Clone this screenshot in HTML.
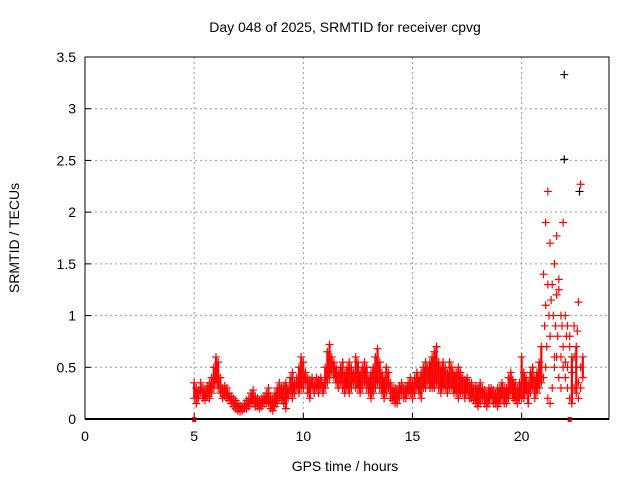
<!DOCTYPE html>
<html><head><meta charset="utf-8"><style>
body{margin:0;background:#fff}
svg text{font-family:"Liberation Sans",sans-serif;font-size:14px;fill:#000}
</style></head><body>
<svg id="c" width="640" height="480">
<text x="345" y="32" text-anchor="middle">Day 048 of 2025, SRMTID for receiver cpvg</text>
<text x="345" y="471" text-anchor="middle">GPS time / hours</text>
<text transform="translate(19,238) rotate(-90)" text-anchor="middle">SRMTID / TECUs</text>
<g id="grid"></g><g id="axes"></g><g id="marks"></g>
<rect x="85" y="57" width="524" height="362" fill="none" stroke="#000" stroke-width="1"/>
</svg>
<script>
const xTicks=[0,5,10,15,20];
const yTicks=[0,0.5,1,1.5,2,2.5,3,3.5];
const yTickLabels=["0","0.5","1","1.5","2","2.5","3","3.5"];
const startHour=5.0, stepHour=0.1;
const lowValues=[.2,.15,.2,.25,.2,.18,.22,.2,.25,.3,
.35,.3,.25,.2,.22,.2,.18,.15,.12,.1,
.08,.07,.08,.1,.1,.12,.15,.15,.12,.12,
.1,.12,.15,.15,.15,.1,.08,.12,.15,.2,
.18,.15,.1,.2,.25,.2,.25,.3,.25,.3,
.3,.35,.25,.2,.3,.25,.3,.25,.3,.25,
.3,.35,.4,.45,.4,.35,.3,.35,.3,.25,
.3,.25,.3,.35,.3,.3,.25,.3,.35,.3,
.25,.2,.25,.3,.35,.3,.25,.2,.25,.3,
.2,.18,.15,.15,.2,.25,.2,.2,.25,.25,
.2,.25,.3,.25,.2,.3,.3,.35,.3,.3,
.3,.35,.3,.25,.3,.3,.25,.3,.3,.25,
.25,.2,.25,.25,.2,.25,.2,.2,.18,.15,
.12,.15,.2,.15,.12,.15,.2,.15,.15,.12,
.15,.2,.15,.15,.2,.25,.2,.18,.15,.2,
.2,.2,.25,.15,.25,.3,.2,.25,.3,.35,
.4,.5,.2,.15,.3,.5,.6,.4,.3,.5,
.4,.3,.2,.15,.3,.25,.2,.3,.4];
const highValues=[.35,.3,.28,.35,.3,.28,.32,.35,.4,.5,
.6,.55,.4,.3,.32,.3,.25,.22,.2,.18,
.15,.13,.12,.15,.18,.2,.25,.28,.22,.2,
.18,.2,.22,.25,.3,.22,.2,.25,.3,.35,
.3,.32,.35,.3,.4,.45,.35,.4,.5,.6,
.55,.45,.4,.38,.4,.35,.4,.38,.4,.35,
.5,.65,.72,.6,.55,.5,.45,.5,.55,.45,
.5,.55,.5,.45,.6,.55,.45,.5,.55,.5,
.4,.45,.5,.6,.68,.55,.45,.4,.5,.45,
.35,.3,.3,.28,.32,.35,.3,.32,.35,.4,
.35,.4,.45,.4,.45,.5,.55,.5,.55,.6,
.65,.7,.55,.5,.55,.5,.45,.55,.5,.45,
.45,.5,.45,.4,.38,.4,.35,.35,.3,.32,
.3,.35,.3,.28,.25,.3,.3,.28,.25,.3,
.3,.35,.3,.3,.4,.45,.38,.35,.3,.35,
.6,.45,.4,.35,.45,.5,.4,.45,.55,.7,
1.4,1.9,2.2,1.7,1.3,1.5,1.77,1.25,1.0,1.9,
1.0,.9,.8,.6,.9,.7,1.13,2.27,.6];
const scatterHours=[21.05,21.1,21.15,21.2,21.25,21.3,21.35,21.45,21.5,21.55,21.6,21.65,21.7,21.8,21.85,21.9,22.0,22.05,22.1,22.2,22.3,22.4,22.5,22.55,22.6,22.7];
const scatterValues=[0.9,1.1,0.7,1.3,1.0,0.8,1.15,1.0,0.6,0.9,1.2,0.8,1.35,0.6,0.9,0.7,0.55,0.8,0.5,0.7,0.45,0.6,0.5,0.85,0.35,0.5];
const blackHours=[21.95,21.95,22.65,16.1];
const blackValues=[3.33,2.51,2.2,0.7];
const zeroHours=[5.0,22.2];
const zeroValues=[0,0];

const NS="http://www.w3.org/2000/svg";
const X=h=>85+h*(524/24), Y=v=>419-v*(362/3.5);
function mk(t,a,p){const e=document.createElementNS(NS,t);for(const k in a)e.setAttribute(k,a[k]);p.appendChild(e);return e;}
const grid=document.getElementById('grid'),axes=document.getElementById('axes'),marks=document.getElementById('marks');
xTicks.forEach(v=>{
 if(v>0){const g=mk('line',{x1:X(v),x2:X(v),y1:57,y2:419,stroke:'#999','stroke-dasharray':'2,3'},grid);
 
 }
 const t=mk('line',{x1:X(v),x2:X(v),y1:419,y2:413,stroke:'#000'},axes);
 
 
 const l=mk('text',{x:X(v),y:441,'text-anchor':'middle'},axes);l.textContent=String(v);
 
 
});
yTicks.forEach((v,i)=>{
 if(v>0&&v<3.5){const g=mk('line',{x1:85,x2:609,y1:Y(v),y2:Y(v),stroke:'#999','stroke-dasharray':'2,3'},grid);
 
 }
 const t=mk('line',{x1:85,x2:91,y1:Y(v),y2:Y(v),stroke:'#000'},axes);
 
 
 const l=mk('text',{x:76,y:Y(v)+5,'text-anchor':'end'},axes);l.textContent=yTickLabels[i];
 
 
});
mk('line',{x1:85,x2:609,y1:419,y2:419,stroke:'#000','stroke-width':2},axes);
function plus(h,v,col,name){
 const x=X(h),y=Y(v);
 const p=mk('path',{d:`M${x-4},${y}H${x+4}M${x},${y-4}V${y+4}`,stroke:col,'stroke-width':1.2,fill:'none'},marks);
 
 
}
blackHours.forEach((h,i)=>plus(h,blackValues[i],'#000','black-point'));
lowValues.forEach((lo,i)=>{
 const h=startHour+i*stepHour, hi=highValues[i];
 if(hi-lo<0.5){
  const b=mk('line',{x1:X(h),x2:X(h),y1:Y(lo),y2:Y(hi),stroke:'#f00','stroke-width':2.2},marks);
  
  
 }
 plus(h,lo,'#f00','low-point');
 plus(h,hi,'#f00','high-point');
});
scatterHours.forEach((h,i)=>plus(h,scatterValues[i],'#f00','storm-point'));
zeroHours.forEach((h,i)=>{
 const r=mk('rect',{x:X(h)-2,y:Y(zeroValues[i])-2,width:4,height:5,fill:'#f00'},marks);
 
 
});
</script>
</body></html>
